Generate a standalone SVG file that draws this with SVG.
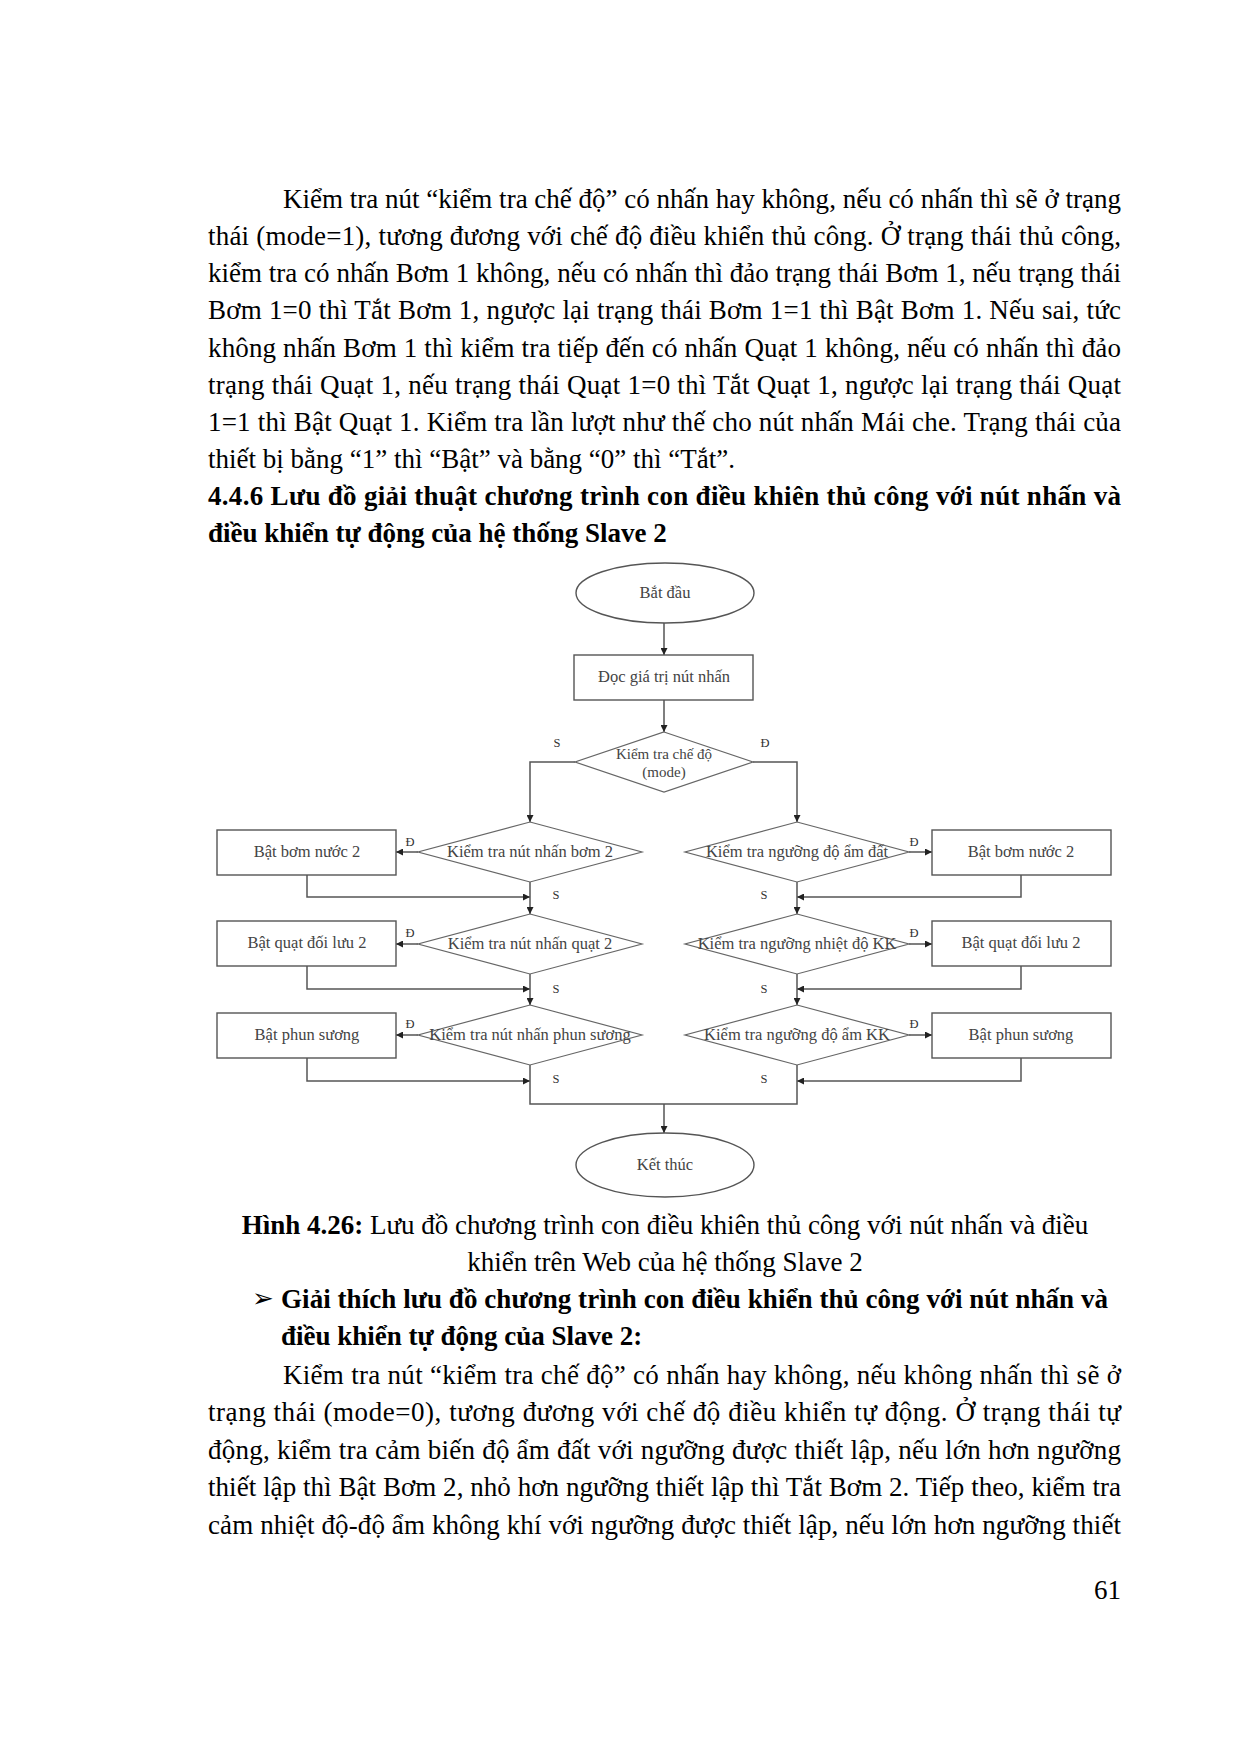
<svg xmlns="http://www.w3.org/2000/svg" width="1240" height="1754" viewBox="0 0 1240 1754">
<defs>
<marker id="ah" viewBox="0 0 10 10" refX="10" refY="5" markerWidth="7" markerHeight="7" markerUnits="userSpaceOnUse" orient="auto">
<path d="M0,0 L10,5 L0,10 z" fill="#222"/>
</marker>
<style>
.t{font-family:"Liberation Serif","Times New Roman",serif;font-size:27px;fill:#000}
.b{font-weight:bold}
.n{fill:#fff;stroke:#555;stroke-width:1.4}
.d{fill:#fff;stroke:#666;stroke-width:1.2}
.nt{font-family:"Liberation Serif","Times New Roman",serif;font-size:16.5px;fill:#444;text-anchor:middle}
.lb{font-family:"Liberation Serif","Times New Roman",serif;font-size:12.5px;fill:#333;text-anchor:middle}
.c{fill:none;stroke:#555;stroke-width:1.5}
.a{marker-end:url(#ah)}
</style>
</defs>
<rect x="0" y="0" width="1240" height="1754" fill="#fff"/>

<g id="text-top">
<text class="t" x="283" y="208" textLength="838" lengthAdjust="spacing">Kiểm tra nút “kiểm tra chế độ” có nhấn hay không, nếu có nhấn thì sẽ ở trạng</text>
<text class="t" x="208" y="245" textLength="913" lengthAdjust="spacing">thái (mode=1), tương đương với chế độ điều khiển thủ công. Ở trạng thái thủ công,</text>
<text class="t" x="208" y="282" textLength="913" lengthAdjust="spacing">kiểm tra có nhấn Bơm 1 không, nếu có nhấn thì đảo trạng thái Bơm 1, nếu trạng thái</text>
<text class="t" x="208" y="319" textLength="913" lengthAdjust="spacing">Bơm 1=0 thì Tắt Bơm 1, ngược lại trạng thái Bơm 1=1 thì Bật Bơm 1. Nếu sai, tức</text>
<text class="t" x="208" y="357" textLength="913" lengthAdjust="spacing">không nhấn Bơm 1 thì kiểm tra tiếp đến có nhấn Quạt 1 không, nếu có nhấn thì đảo</text>
<text class="t" x="208" y="394" textLength="913" lengthAdjust="spacing">trạng thái Quạt 1, nếu trạng thái Quạt 1=0 thì Tắt Quạt 1, ngược lại trạng thái Quạt</text>
<text class="t" x="208" y="431" textLength="913" lengthAdjust="spacing">1=1 thì Bật Quạt 1. Kiểm tra lần lượt như thế cho nút nhấn Mái che. Trạng thái của</text>
<text class="t" x="208" y="468">thiết bị bằng “1” thì “Bật” và bằng “0” thì “Tắt”.</text>
<text class="t b" x="208" y="505" textLength="913" lengthAdjust="spacing">4.4.6 Lưu đồ giải thuật chương trình con điều khiên thủ công với nút nhấn và</text>
<text class="t b" x="208" y="542">điều khiển tự động của hệ thống Slave 2</text>
</g>

<g id="connectors">
<path class="c a" d="M664,623 L664,655"/>
<path class="c a" d="M664,700 L664,732"/>
<path class="c a" d="M575,762 L530,762 L530,822"/>
<path class="c a" d="M753,762 L797,762 L797,822"/>
<path class="c a" d="M418,852 L396,852"/>
<path class="c a" d="M307,875 L307,897 L530,897"/>
<path class="c a" d="M530,882 L530,914"/>
<path class="c a" d="M418,944 L396,944"/>
<path class="c a" d="M307,966 L307,989 L530,989"/>
<path class="c a" d="M530,974 L530,1005"/>
<path class="c a" d="M418,1035 L396,1035"/>
<path class="c a" d="M307,1058 L307,1081 L530,1081"/>
<path class="c a" d="M909,852 L932,852"/>
<path class="c a" d="M1021,875 L1021,897 L797,897"/>
<path class="c a" d="M797,882 L797,914"/>
<path class="c a" d="M909,944 L932,944"/>
<path class="c a" d="M1021,966 L1021,989 L797,989"/>
<path class="c a" d="M797,974 L797,1005"/>
<path class="c a" d="M909,1035 L932,1035"/>
<path class="c a" d="M1021,1058 L1021,1081 L797,1081"/>
<path class="c" d="M530,1065 L530,1104 L797,1104 L797,1065"/>
<path class="c a" d="M664,1104 L664,1133"/>
<text class="lb" x="557" y="747">S</text>
<text class="lb" x="765" y="747">Đ</text>
<text class="lb" x="410" y="846">Đ</text>
<text class="lb" x="914" y="846">Đ</text>
<text class="lb" x="556" y="899">S</text>
<text class="lb" x="764" y="899">S</text>
<text class="lb" x="410" y="937">Đ</text>
<text class="lb" x="914" y="937">Đ</text>
<text class="lb" x="556" y="993">S</text>
<text class="lb" x="764" y="993">S</text>
<text class="lb" x="410" y="1028">Đ</text>
<text class="lb" x="914" y="1028">Đ</text>
<text class="lb" x="556" y="1083">S</text>
<text class="lb" x="764" y="1083">S</text>
</g>

<g id="start">
<ellipse class="n" cx="665" cy="593" rx="89" ry="30"/>
<text class="nt" x="665" y="598">Bắt đầu</text>
</g>
<g id="read">
<rect class="n" x="574" y="655" width="179" height="45"/>
<text class="nt" x="664" y="682">Đọc giá trị nút nhấn</text>
</g>
<g id="mode">
<polygon class="d" points="664,732 753,762 664,792 575,762"/>
<text class="nt" x="664" y="759" style="font-size:15px">Kiểm tra chế độ</text>
<text class="nt" x="664" y="777" style="font-size:15px">(mode)</text>
</g>

<g id="dL1">
<polygon class="d" points="530,822 642,852 530,882 418,852"/>
<text class="nt" x="530" y="857">Kiểm tra nút nhấn bơm 2</text>
</g>
<g id="dL2">
<polygon class="d" points="530,914 642,944 530,974 418,944"/>
<text class="nt" x="530" y="949">Kiểm tra nút nhấn quạt 2</text>
</g>
<g id="dL3">
<polygon class="d" points="530,1005 642,1035 530,1065 418,1035"/>
<text class="nt" x="530" y="1040">Kiểm tra nút nhấn phun sương</text>
</g>
<g id="dR1">
<polygon class="d" points="797,822 909,852 797,882 685,852"/>
<text class="nt" x="797" y="857">Kiểm tra ngưỡng độ ẩm đất</text>
</g>
<g id="dR2">
<polygon class="d" points="797,914 909,944 797,974 685,944"/>
<text class="nt" x="797" y="949">Kiểm tra ngưỡng nhiệt độ KK</text>
</g>
<g id="dR3">
<polygon class="d" points="797,1005 909,1035 797,1065 685,1035"/>
<text class="nt" x="797" y="1040">Kiểm tra ngưỡng độ ẩm KK</text>
</g>

<g id="bL1">
<rect class="n" x="217" y="830" width="179" height="45"/>
<text class="nt" x="307" y="857">Bật bơm nước 2</text>
</g>
<g id="bL2">
<rect class="n" x="217" y="921" width="179" height="45"/>
<text class="nt" x="307" y="948">Bật quạt đối lưu 2</text>
</g>
<g id="bL3">
<rect class="n" x="217" y="1013" width="179" height="45"/>
<text class="nt" x="307" y="1040">Bật phun sương</text>
</g>
<g id="bR1">
<rect class="n" x="932" y="830" width="179" height="45"/>
<text class="nt" x="1021" y="857">Bật bơm nước 2</text>
</g>
<g id="bR2">
<rect class="n" x="932" y="921" width="179" height="45"/>
<text class="nt" x="1021" y="948">Bật quạt đối lưu 2</text>
</g>
<g id="bR3">
<rect class="n" x="932" y="1013" width="179" height="45"/>
<text class="nt" x="1021" y="1040">Bật phun sương</text>
</g>

<g id="end">
<ellipse class="n" cx="665" cy="1165" rx="89" ry="32"/>
<text class="nt" x="665" y="1170">Kết thúc</text>
</g>

<g id="text-bottom">
<text class="t" x="665" y="1234" text-anchor="middle"><tspan class="b">Hình 4.26:</tspan> Lưu đồ chương trình con điều khiên thủ công với nút nhấn và điều</text>
<text class="t" x="665" y="1271" text-anchor="middle">khiển trên Web của hệ thống Slave 2</text>
<text x="252" y="1307" font-family="DejaVu Sans, sans-serif" font-size="26" fill="#000">➢</text>
<text class="t b" x="281" y="1308" textLength="827" lengthAdjust="spacing">Giải thích lưu đồ chương trình con điều khiển thủ công với nút nhấn và</text>
<text class="t b" x="281" y="1345">điều khiển tự động của Slave 2:</text>
<text class="t" x="283" y="1384" textLength="838" lengthAdjust="spacing">Kiểm tra nút “kiểm tra chế độ” có nhấn hay không, nếu không nhấn thì sẽ ở</text>
<text class="t" x="208" y="1421" textLength="913" lengthAdjust="spacing">trạng thái (mode=0), tương đương với chế độ điều khiển tự động. Ở trạng thái tự</text>
<text class="t" x="208" y="1459" textLength="913" lengthAdjust="spacing">động, kiểm tra cảm biến độ ẩm đất với ngưỡng được thiết lập, nếu lớn hơn ngưỡng</text>
<text class="t" x="208" y="1496" textLength="913" lengthAdjust="spacing">thiết lập thì Bật Bơm 2, nhỏ hơn ngưỡng thiết lập thì Tắt Bơm 2. Tiếp theo, kiểm tra</text>
<text class="t" x="208" y="1534" textLength="913" lengthAdjust="spacing">cảm nhiệt độ-độ ẩm không khí với ngưỡng được thiết lập, nếu lớn hơn ngưỡng thiết</text>
<text class="t" x="1121" y="1599" text-anchor="end">61</text>
</g>
</svg>
